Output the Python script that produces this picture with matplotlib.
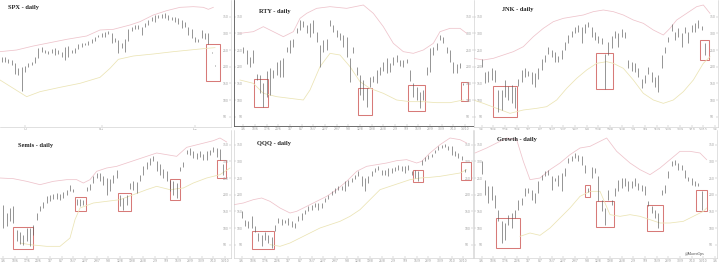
import numpy as np
import matplotlib
matplotlib.use('Agg')
import matplotlib.pyplot as plt
from matplotlib.patches import Rectangle

# ---- data (index levels, arbitrary units) ----
spx_high = [230, 228, 222, 220, 210, 195, 200, 202, 210, 215, 228, 255, 258, 250, 248, 252, 255, 250, 245, 260,
            262, 250, 255, 268, 272, 272, 278, 282, 288, 295, 300, 305, 308, 302, 285, 280, 270, 282, 312, 320,
            325, 324, 320, 330, 340, 350, 355, 355, 358, 360, 355, 350, 348, 345, 340, 335, 318, 312, 290, 282,
            310, 300, 300, 245, 206]
spx_low = [215, 215, 212, 205, 178, 175, 128, 185, 198, 205, 212, 225, 245, 240, 238, 240, 235, 238, 228, 220,
           230, 242, 242, 252, 260, 265, 265, 270, 278, 288, 290, 288, 298, 270, 275, 240, 255, 245, 278, 308,
           314, 314, 295, 320, 325, 338, 335, 345, 345, 345, 340, 340, 335, 328, 315, 320, 295, 285, 275, 274,
           285, 282, 268, 240, 202]
spx_ub_x = [-0.5, 4.5, 9.5, 14.5, 19.5, 25.5, 29.5, 33.5, 38.5, 41.5, 45.5, 49.5, 53.5, 57.5, 60.5, 62, 63.5]
spx_ub = [245, 250, 262, 272, 282, 292, 310, 312, 325, 335, 355, 368, 378, 380, 378, 372, 378]
spx_lb_x = [-0.5, 3.5, 7.5, 11.5, 17.5, 23.5, 29.5, 32.5, 35, 39.5, 45.5, 51.5, 56.5, 61.5, 64]
spx_lb = [160, 135, 110, 125, 138, 150, 168, 195, 222, 232, 238, 245, 250, 255, 257]
spx_boxes = [(61.3, 65.5, 267, 158)]

rty_high = [260, 250, 230, 250, 178, 175, 150, 188, 195, 190, 215, 220, 225, 260, 280, 282, 315, 340, 338, 325,
            330, 340, 305, 265, 280, 282, 340, 325, 310, 300, 295, 290, 225, 260, 200, 175, 160, 135, 170, 172,
            190, 200, 215, 225, 210, 230, 235, 220, 220, 222, 190, 150, 138, 125, 130, 200, 255, 260, 272, 295,
            290, 260, 250, 215, 208, 210, 150]
rty_low = [240, 208, 200, 212, 160, 120, 80, 110, 115, 165, 175, 170, 170, 245, 240, 260, 300, 310, 320, 300,
           290, 300, 275, 200, 245, 250, 322, 305, 290, 280, 260, 230, 155, 240, 175, 115, 100, 80, 138, 155,
           150, 175, 188, 180, 185, 205, 215, 202, 200, 210, 158, 110, 100, 75, 100, 175, 185, 235, 250, 280,
           272, 240, 215, 182, 180, 195, 144]
rty_ub_x = [-1, 3, 6, 9, 12, 15, 17, 19, 22, 26, 31, 36, 39, 42, 45, 48, 51, 54, 57, 59, 62, 65, 67]
rty_ub = [300, 305, 320, 305, 290, 305, 345, 360, 375, 380, 375, 385, 360, 320, 270, 245, 240, 250, 270, 305,
          315, 315, 300]
rty_lb_x = [-1, 3, 6, 10, 14, 18, 20, 23, 26, 29, 32, 35, 38, 42, 46, 50, 54, 58, 62, 66]
rty_lb = [160, 150, 120, 110, 105, 100, 130, 200, 240, 235, 200, 155, 135, 120, 100, 95, 95, 92, 92, 100]
rty_boxes = [(3.2, 7.3, 163, 78), (34.3, 38.5, 135, 55), (49.3, 54.5, 145, 67), (65.3, 67.5, 155, 98)]

jnk_high = [222, 185, 188, 195, 190, 130, 130, 160, 142, 145, 138, 162, 190, 195, 188, 185, 180, 195, 222, 235,
            260, 250, 245, 232, 250, 275, 295, 308, 320, 325, 320, 328, 335, 318, 305, 292, 285, 238, 275, 292,
            308, 300, 312, 305, 220, 215, 210, 195, 162, 175, 200, 185, 170, 175, 235, 260, 290, 328, 305, 315,
            302, 320, 305, 325, 330, 340, 322, 270]
jnk_low = [200, 150, 155, 160, 155, 65, 70, 110, 100, 90, 75, 142, 155, 170, 172, 148, 140, 162, 190, 215,
           238, 228, 215, 215, 222, 250, 270, 288, 300, 305, 270, 300, 318, 290, 280, 272, 268, 132, 235, 255,
           285, 260, 288, 285, 195, 188, 185, 170, 135, 150, 178, 155, 140, 125, 195, 240, 275, 308, 280, 290,
           260, 300, 270, 305, 305, 315, 310, 235]
jnk_ub_x = [-2.5, 0.5, 3.5, 6.5, 9.5, 12.5, 15.5, 18.5, 21.5, 24.5, 27.5, 30.5, 33.5, 36.5, 39.5, 42.5, 45.5,
            48.5, 51.5, 54.5, 56.5, 58.5, 61.5, 64.5, 66.5, 68.5]
jnk_ub = [225, 220, 225, 235, 245, 260, 290, 315, 335, 345, 350, 355, 365, 370, 365, 355, 340, 330, 310, 295,
          315, 340, 360, 380, 385, 360]
jnk_lb_x = [-2.5, 0.5, 4.5, 8.5, 12.5, 16.5, 19.5, 22.5, 25.5, 28.5, 31.5, 34.5, 37.5, 39.5, 42.5, 45.5, 48.5,
            51.5, 54.5, 57.5, 60.5, 63.5, 66.5, 68.5]
jnk_lb = [100, 90, 75, 60, 70, 75, 80, 100, 135, 165, 190, 210, 215, 210, 195, 160, 120, 100, 90, 100, 125, 160,
          210, 230]
jnk_boxes = [(3.5, 10.5, 142, 50), (34.3, 39.5, 240, 132), (65.5, 68.3, 280, 220)]

semis_high = [168, 145, 160, 165, 95, 88, 80, 100, 100, 110, 145, 165, 178, 195, 200, 202, 205, 202, 208, 215,
              228, 218, 188, 188, 185, 222, 232, 255, 265, 265, 255, 250, 248, 260, 275, 200, 190, 200, 235, 240,
              238, 260, 285, 298, 310, 315, 302, 292, 278, 272, 245, 240, 235, 282, 298, 335, 340, 330, 325, 330,
              322, 330, 335, 342, 340, 338, 292]
semis_low = [100, 105, 120, 115, 60, 52, 50, 60, 45, 80, 125, 150, 160, 175, 182, 188, 188, 185, 190, 200,
             210, 208, 168, 165, 170, 210, 215, 235, 250, 240, 230, 200, 210, 235, 250, 165, 155, 168, 218, 215,
             205, 242, 260, 278, 288, 300, 272, 260, 250, 240, 210, 200, 190, 270, 282, 322, 320, 310, 308, 312,
             305, 305, 318, 328, 312, 305, 260]
semis_ub_x = [-1, 3, 7, 11, 15, 19, 22, 24, 26, 28, 31, 34, 37, 40, 43, 46, 49, 52, 55, 59, 63, 65, 67]
semis_ub = [250, 248, 240, 230, 240, 245, 245, 235, 245, 270, 280, 285, 295, 305, 315, 325, 320, 315, 342, 352,
            362, 370, 358]
semis_lb_x = [5, 8, 13, 17, 20, 21.5, 23, 27, 31, 35, 39, 43, 46, 50, 54, 57, 61, 65, 68]
semis_lb = [55, 50, 45, 45, 70, 125, 160, 175, 180, 185, 200, 215, 225, 215, 220, 235, 250, 260, 280]
semis_boxes = [(2.8, 9, 102, 37), (21.5, 24.8, 192, 152), (34.5, 38.2, 205, 150), (50, 53, 248, 185),
               (64.2, 66.7, 303, 250)]

qqq_high = [150, 125, 120, 135, 105, 85, 80, 88, 80, 72, 110, 130, 128, 125, 130, 120, 115, 135, 145, 155,
            165, 170, 175, 175, 175, 190, 200, 210, 220, 225, 225, 240, 245, 250, 260, 270, 255, 250, 255, 270,
            280, 285, 275, 275, 280, 280, 282, 290, 285, 285, 288, 272, 275, 270, 305, 312, 318, 322, 335, 345,
            350, 352, 345, 345, 330, 325, 315, 278]
qqq_low = [130, 105, 100, 100, 88, 60, 45, 65, 55, 40, 90, 115, 110, 115, 110, 102, 100, 120, 125, 142,
           150, 155, 162, 155, 160, 178, 188, 198, 205, 214, 214, 210, 225, 238, 248, 255, 225, 210, 235, 255,
           268, 274, 260, 260, 255, 265, 270, 275, 270, 265, 275, 258, 250, 240, 290, 300, 308, 312, 324, 334,
           340, 342, 334, 320, 315, 310, 304, 268]
qqq_ub_x = [-2.3, 0.5, 3.5, 6, 8.5, 11.5, 14.5, 16.5, 19.5, 22.5, 25.5, 28.5, 31.5, 34.5, 37.5, 40.5, 43.5,
            46.5, 49.5, 52.5, 54, 56.5, 59.5, 62.5, 65.5, 67.5]
qqq_ub = [170, 175, 185, 190, 180, 160, 145, 150, 165, 180, 195, 215, 240, 270, 285, 290, 295, 302, 305, 295,
          300, 325, 350, 370, 365, 355]
qqq_lb_x = [8.5, 11.5, 14.5, 17.5, 20.5, 23.5, 26.5, 29.5, 32.5, 35.5, 38.5, 41.5, 44.5, 47.5, 50.5, 53.5, 56.5,
            59.5, 62.5, 65.5, 67.5]
qqq_lb = [50, 45, 55, 70, 85, 100, 110, 120, 135, 155, 185, 215, 225, 235, 245, 250, 252, 255, 260, 265, 275]
qqq_boxes = [(3, 9.8, 90, 37), (51.3, 54.5, 273, 238), (65.8, 68.7, 297, 243)]

growth_high = [300, 245, 225, 225, 200, 155, 120, 115, 140, 145, 155, 185, 190, 220, 220, 215, 205, 240, 260, 270,
               275, 255, 250, 260, 265, 280, 310, 315, 325, 320, 315, 290, 220, 282, 280, 255, 185, 160, 215, 185,
               220, 245, 250, 250, 240, 240, 250, 235, 230, 225, 180, 165, 155, 145, 215, 230, 270, 300, 305, 295,
               288, 275, 252, 250, 240, 235, 210]
growth_low = [262, 200, 175, 185, 160, 120, 55, 65, 110, 100, 130, 155, 170, 195, 205, 185, 175, 205, 245, 255,
              260, 215, 240, 225, 210, 255, 295, 300, 310, 300, 290, 265, 208, 250, 265, 180, 150, 110, 185, 170,
              195, 210, 220, 225, 210, 220, 225, 215, 210, 200, 165, 145, 130, 100, 200, 205, 250, 285, 290, 275,
              275, 250, 240, 230, 225, 225, 155]
growth_ub_x = [-2, 1.5, 4.5, 7.5, 10.5, 12.5, 14.5, 17.5, 20.5, 23.5, 26.5, 29.5, 32.5, 35.5, 37.5, 40.5, 44.5,
               47.5, 50.5, 53.5, 56.5, 59.5, 62.5, 65.5, 67.5]
growth_ub = [325, 340, 355, 370, 365, 300, 245, 250, 275, 295, 320, 340, 345, 360, 370, 330, 295, 275, 260, 280,
             305, 330, 330, 325, 305]
growth_lb_x = [11.5, 14.5, 17.5, 20.5, 23.5, 26.5, 29.5, 32.5, 35.5, 38.5, 41.5, 44.5, 47.5, 50.5, 53.5, 56.5,
               60.5, 63.5, 66.5, 67.5]
growth_lb = [75, 85, 78, 100, 130, 160, 195, 210, 210, 140, 135, 140, 135, 125, 115, 115, 120, 135, 150, 160]
growth_boxes = [(4.2, 11.5, 130, 40), (31, 32.5, 228, 192), (34.3, 39.7, 182, 103), (49.7, 54.5, 170, 90),
                (64.2, 67.7, 215, 150)]

month_labels = ['Jul', 'Oct', 'Jan']
week_labels = ['3/6', '10/6', '17/6', '24/6', '1/7', '8/7', '15/7', '22/7', '29/7', '5/8', '12/8', '19/8',
               '26/8', '2/9', '9/9', '16/9', '23/9', '30/9', '7/10', '14/10']

# ---- drawing ----
W, H = 720, 264
UPPER = '#eec3cb'
LOWER = '#ebe4b4'
BOX = '#d77a78'
BAR = '#5a5a5a'

fig = plt.figure(figsize=(7.2, 2.64), dpi=100)
fig.patch.set_facecolor('white')


def panel(px, xlim, ylim, high, low, ub_x, ub, lb_x, lb, boxes, title, title_px,
          sides=('right', 'bottom'), frame='#c8c8c8', xlabels=None, xstep=3.5):
    x0, y0, x1, y1 = px
    ax = fig.add_axes([x0 / W, 1 - y1 / H, (x1 - x0) / W, (y1 - y0) / H])
    idx = np.arange(len(high))
    ax.plot(ub_x, ub, color=UPPER, lw=0.55)
    ax.plot(lb_x, lb, color=LOWER, lw=0.55)
    ax.vlines(idx, low, high, color=BAR, lw=0.45)
    for bx0, bx1, top, bot in boxes:
        ax.add_patch(Rectangle((bx0, bot), bx1 - bx0, top - bot, fill=False,
                               edgecolor=BOX, lw=0.75))
    ax.set_xlim(*xlim)
    ax.set_ylim(*ylim)
    for s in ['left', 'right', 'top', 'bottom']:
        ax.spines[s].set_visible(s in sides)
        ax.spines[s].set_color(frame)
        ax.spines[s].set_linewidth(0.6 if frame != '#c8c8c8' else 0.4)
    ax.yaxis.set_ticks_position('both' if 'left' in sides else 'right')
    ax.set_yticks(np.arange(50, ylim[1], 50))
    ax.tick_params(axis='both', direction='in', length=1.5, width=0.3, colors='#aaaaaa',
                   labelsize=2.2, labelcolor='#999999', pad=1)
    ax.tick_params(axis='y', labelleft='left' in sides, labelright=True, pad=-6)
    if xlabels is None:
        ticks = np.arange(0, xlim[1], xstep)
        ax.set_xticks(ticks)
        ax.set_xticklabels([week_labels[i % len(week_labels)] for i in range(len(ticks))])
    else:
        ax.set_xticks([7, 30, 58])
        ax.set_xticklabels(xlabels)
    ax.tick_params(axis='x', pad=0.5)
    fig.text(title_px[0] / W, 1 - title_px[1] / H, title, fontsize=4.6, fontweight='bold',
             family='Liberation Serif', va='center', ha='left', color='#222222')
    return ax


panel((0, 0, 231, 127), (-0.5, 68.8), (19, 400), spx_high, spx_low, spx_ub_x, spx_ub,
      spx_lb_x, spx_lb, spx_boxes, 'SPX - daily', (8, 7), xlabels=month_labels)
panel((234, 0, 474, 126), (-2.8, 69.2), (22, 400), rty_high, rty_low, rty_ub_x, rty_ub,
      rty_lb_x, rty_lb, rty_boxes, 'RTY - daily', (259, 12),
      sides=('left', 'right', 'bottom'), frame='#555555')
panel((474, 0, 718, 127), (-2.3, 70.9), (19, 400), jnk_high, jnk_low, jnk_ub_x, jnk_ub,
      jnk_lb_x, jnk_lb, jnk_boxes, 'JNK - daily', (502, 10), sides=('left', 'right', 'bottom'))
panel((0, 130, 231, 258), (-1, 68.3), (10, 394), semis_high, semis_low, semis_ub_x, semis_ub,
      semis_lb_x, semis_lb, semis_boxes, 'Semis - daily', (18, 146))
panel((234, 130, 473, 258), (-2.3, 69.4), (10, 394), qqq_high, qqq_low, qqq_ub_x, qqq_ub,
      qqq_lb_x, qqq_lb, qqq_boxes, 'QQQ - daily', (257, 143), sides=('left', 'right', 'bottom'))
panel((474, 130, 717, 258), (-2.3, 70.6), (10, 394), growth_high, growth_low, growth_ub_x, growth_ub,
      growth_lb_x, growth_lb, growth_boxes, 'Growth - daily', (497, 140), sides=('left', 'right', 'bottom'))

fig.text(685 / W, 1 - 254 / H, '@MacroOps', fontsize=2.8, family='Liberation Serif',
         va='center', ha='left', color='#444444')

fig.savefig('out.png', dpi=100, facecolor='white')
